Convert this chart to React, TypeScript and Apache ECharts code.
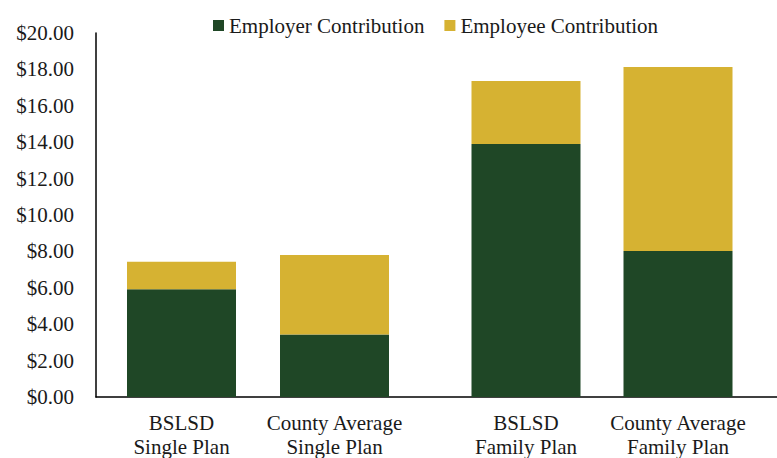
import React, { useEffect, useRef } from "react";
import * as echarts from "echarts";

const singleCategories = ["BSLSD\nSingle Plan", "County Average\nSingle Plan"];
const familyCategories = ["BSLSD\nFamily Plan", "County Average\nFamily Plan"];
const employerSingle = [5.92, 3.44];
const employeeSingle = [1.51, 4.36];
const employerFamily = [13.9, 8.02];
const employeeFamily = [3.46, 10.11];
const seriesNames = ["Employer Contribution", "Employee Contribution"];
const yMin = 0;
const yMax = 20;
const yStep = 2;

const GREEN = "#1F4726";
const GOLD = "#D6B232";
const FONT = "Liberation Serif";

export default function App() {
  const ref = useRef<HTMLDivElement>(null);
  useEffect(() => {
    document.body.style.margin = "0";
    if (!ref.current) return;
    const chart = echarts.init(ref.current, undefined, { renderer: "svg" });
    const textStyle = { fontFamily: FONT, fontSize: 21, color: "#1a1a1a" };
    const catAxis = (gridIndex: number, data: string[]) => ({
      type: "category",
      gridIndex,
      data,
      axisLine: { show: false },
      axisTick: { show: false },
      axisLabel: { ...textStyle, margin: 14, lineHeight: 24, interval: 0 },
    });
    const hiddenY = (gridIndex: number) => ({
      type: "value",
      gridIndex,
      min: yMin,
      max: yMax,
      interval: yStep,
      show: false,
    });
    const bar = (name: string, color: string, idx: number, data: number[]) => ({
      name,
      type: "bar",
      stack: "s" + idx,
      xAxisIndex: idx,
      yAxisIndex: idx,
      barWidth: 109,
      itemStyle: { color },
      data,
    });
    chart.setOption({
      animation: false,
      textStyle: { fontFamily: FONT },
      legend: {
        left: 208,
        top: 10,
        icon: "rect",
        itemWidth: 11,
        itemHeight: 11,
        itemGap: 20,
        textStyle: { ...textStyle },
        data: seriesNames,
      },
      grid: [
        { left: 105, width: 306, top: 33, bottom: 61, outerBoundsMode: "none", containLabel: false },
        { left: 450, width: 304, top: 33, bottom: 61, outerBoundsMode: "none", containLabel: false },
        { left: 96, right: 0, top: 33, bottom: 61, outerBoundsMode: "none", containLabel: false },
      ],
      xAxis: [
        catAxis(0, singleCategories),
        catAxis(1, familyCategories),
        {
          type: "value",
          gridIndex: 2,
          min: 0,
          max: 1,
          axisLine: { show: true, onZero: false, lineStyle: { color: "#000", width: 1.5 } },
          axisTick: { show: false },
          axisLabel: { show: false },
          splitLine: { show: false },
        },
      ],
      yAxis: [
        hiddenY(0),
        hiddenY(1),
        {
          type: "value",
          gridIndex: 2,
          min: yMin,
          max: yMax,
          interval: yStep,
          axisLine: { show: true, lineStyle: { color: "#000", width: 1.5 } },
          axisTick: { show: false },
          splitLine: { show: false },
          axisLabel: {
            ...textStyle,
            margin: 22,
            formatter: (v: number) => "$" + v.toFixed(2),
          },
        },
      ],
      series: [
        bar(seriesNames[0], GREEN, 0, employerSingle),
        bar(seriesNames[1], GOLD, 0, employeeSingle),
        bar(seriesNames[0], GREEN, 1, employerFamily),
        bar(seriesNames[1], GOLD, 1, employeeFamily),
      ],
    });
    return () => chart.dispose();
  }, []);
  return <div ref={ref} style={{ width: 777, height: 458 }} />;
}
